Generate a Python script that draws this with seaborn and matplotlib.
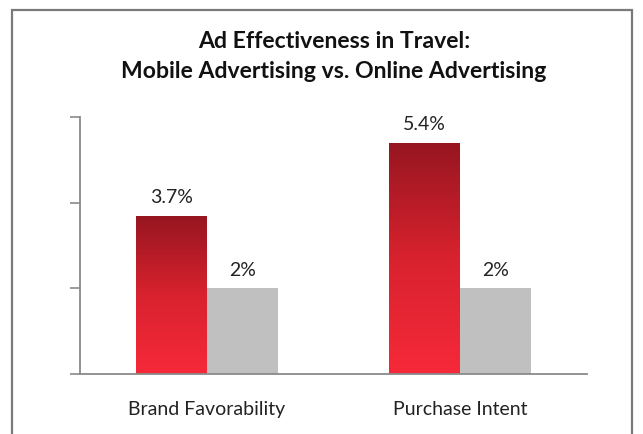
import numpy as np
import pandas as pd
import matplotlib
matplotlib.use("Agg")
import matplotlib.pyplot as plt
from matplotlib.patches import Rectangle
from matplotlib.colors import LinearSegmentedColormap
import seaborn as sns

# Data
categories = ["Brand Favorability", "Purchase Intent"]
mobile = [3.7, 5.4]
online = [2.0, 2.0]
series = ["Mobile Advertising", "Online Advertising"]
value_labels_mobile = ["3.7%", "5.4%"]
value_labels_online = ["2%", "2%"]

df = pd.DataFrame({
    "metric": categories * 2,
    "value": mobile + online,
    "type": [series[0]] * len(categories) + [series[1]] * len(categories),
})

sns.set_theme(style="white")
plt.rcParams["font.family"] = ["Lato", "DejaVu Sans"]

fig = plt.figure(figsize=(6.43, 4.35), dpi=100)
ax = fig.add_axes([80 / 643, 1 - 375 / 435, (587 - 80) / 643, (375 - 118) / 435])

sns.barplot(data=df, x="metric", y="value", hue="type", order=categories,
            hue_order=series, palette=["#D42030", "#C0C0C0"],
            width=0.56, gap=0, dodge=True, legend=False, ax=ax,
            saturation=1, linewidth=0, edgecolor="none")

# Vertical red gradient on the mobile bars
grad = LinearSegmentedColormap.from_list("redgrad", ["#F62939", "#D8222E", "#961620"])
bars = ax.patches
mobile_bars = bars[:len(categories)]
online_bars = bars[len(categories):]
for p in mobile_bars:
    x0, y0 = p.get_x(), p.get_y()
    w, h = p.get_width(), p.get_height()
    img = np.linspace(0, 1, 256).reshape(-1, 1)
    im = ax.imshow(img, cmap=grad, aspect="auto", origin="lower",
                   extent=[x0, x0 + w, y0, y0 + h], zorder=p.get_zorder() + 0.1)
    im.set_clip_path(p)

# Value labels
for p, lab in zip(mobile_bars, value_labels_mobile):
    ax.annotate(lab, (p.get_x() + p.get_width() / 2, p.get_height()),
                xytext=(0, 13.5), textcoords="offset points",
                ha="center", va="center", fontsize=14, color="#222222")
for p, lab in zip(online_bars, value_labels_online):
    ax.annotate(lab, (p.get_x() + p.get_width() / 2, p.get_height()),
                xytext=(0, 13.5), textcoords="offset points",
                ha="center", va="center", fontsize=14, color="#222222")

ax.set_xlim(-0.5, 1.5)
ax.set_ylim(0, 6)
ax.set_yticks([0, 2, 4, 6])
ax.set_yticklabels([])
ax.set_xlabel("")
ax.set_ylabel("")
ax.set_xticks([0, 1])
ax.set_xticklabels(categories, fontsize=14, color="#222222")
ax.set_xticks([-0.5, 0.5, 1.5], minor=True)
ax.tick_params(axis="x", which="major", length=0, pad=19)
ax.tick_params(axis="x", which="minor", length=5, width=1.2, color="#8a8a8a", direction="out")
ax.tick_params(axis="y", length=7, width=1.2, color="#8a8a8a", direction="out", left=True)

for side in ["top", "right"]:
    ax.spines[side].set_visible(False)
for side in ["left", "bottom"]:
    ax.spines[side].set_color("#8a8a8a")
    ax.spines[side].set_linewidth(1.3)

title_x = 334 / 643
fig.text(title_x, 1 - 42 / 435, "Ad Effectiveness in Travel:", ha="center", va="center",
         fontsize=16.6, fontweight="bold", color="#111111")
fig.text(title_x, 1 - 71.5 / 435, "Mobile Advertising vs. Online Advertising", ha="center",
         va="center", fontsize=16.6, fontweight="bold", color="#111111")

# Outer frame
frame = Rectangle((11.5 / 643, -0.1), (632 - 11.5) / 643, 1.1 - 11 / 435,
                  transform=fig.transFigure, fill=False, edgecolor="#7a7a7a",
                  linewidth=1.6, clip_on=False)
fig.patches.append(frame)

fig.savefig("out.png", dpi=100)
